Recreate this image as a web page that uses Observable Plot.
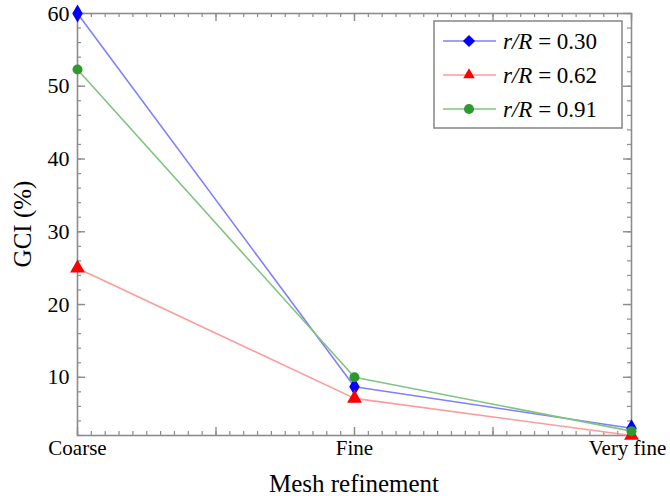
<!DOCTYPE html>
<html><head><meta charset="utf-8">
<script src="https://cdn.jsdelivr.net/npm/d3@7"></script>
<script src="https://cdn.jsdelivr.net/npm/@observablehq/plot@0.6"></script>
<style>body{margin:0;background:#fff}#c{width:670px;height:496px}</style>
</head><body><div id="c"></div>
<script>
const categories = ["Coarse", "Fine", "Very fine"];
const seriesKeys = ["0.30", "0.62", "0.91"];
const gci030 = [60.0, 8.7, 3.0];
const gci062 = [25.0, 7.1, 2.0];
const gci091 = [52.3, 10.0, 2.6];
const yTicks = [10, 20, 30, 40, 50, 60];
const yMinorTicks = d3.range(2, 60.01, 2);
const xMajorTicks = [0, 0.5, 1, 1.5, 2];
const xMinorTicks = d3.range(0, 2.001, 0.05);
const xLabel = "Mesh refinement";
const yLabel = "GCI (%)";

const lineColors = ["#7f7fff", "#ff9a9a", "#80c480"];
const markColors = ["#0000ff", "#ff0000", "#2e9a2e"];
const symbols = ["diamond", "triangle", "circle"];

const seriesVals = [gci030, gci062, gci091];
const data = [];
seriesVals.forEach((vals, s) => vals.forEach((v, i) => data.push({s, i, v})));
const catData = categories.map((c, i) => ({c, i}));

const W = 670, H = 496, mL = 77, mR = 39, mT = 13, mB = 61;
const innerW = W - mL - mR, innerH = H - mT - mB;
const font = "Liberation Serif, Times New Roman, serif";
const gray = "#8c8c8c";

const marks = [];
marks.push(Plot.tickY(yMinorTicks, {y: d => d, insetRight: innerW - 4, stroke: gray, strokeWidth: 1.2}));
marks.push(Plot.tickY(yMinorTicks, {y: d => d, insetLeft: innerW - 4, stroke: gray, strokeWidth: 1.2}));
marks.push(Plot.tickY(yTicks, {y: d => d, insetRight: innerW - 8, stroke: gray, strokeWidth: 1.4}));
marks.push(Plot.tickY(yTicks, {y: d => d, insetLeft: innerW - 8, stroke: gray, strokeWidth: 1.4}));
marks.push(Plot.tickX(xMinorTicks, {x: d => d, insetTop: innerH - 4, stroke: gray, strokeWidth: 1.2}));
marks.push(Plot.tickX(xMinorTicks, {x: d => d, insetBottom: innerH - 4, stroke: gray, strokeWidth: 1.2}));
marks.push(Plot.tickX(xMajorTicks, {x: d => d, insetTop: innerH - 8, stroke: gray, strokeWidth: 1.4}));
marks.push(Plot.tickX(xMajorTicks, {x: d => d, insetBottom: innerH - 8, stroke: gray, strokeWidth: 1.4}));
marks.push(Plot.frame({stroke: gray, strokeWidth: 1.6}));

seriesVals.forEach((vals, s) => {
  const d = data.filter(e => e.s === s);
  marks.push(Plot.line(d, {x: "i", y: "v", stroke: lineColors[s], strokeWidth: 1.6}));
});
seriesVals.forEach((vals, s) => {
  const d = data.filter(e => e.s === s);
  marks.push(Plot.dot(d, {x: "i", y: "v", fill: markColors[s], stroke: "none", symbol: () => symbols[s], r: s === 2 ? 5 : 5.5}));
});

marks.push(Plot.axisY({ticks: yTicks, tickSize: 0, tickPadding: 8, fontSize: 22, label: null}));
// x tick labels: first two centred, last one nudged left to stay inside the page
marks.push(Plot.text(catData.slice(0, 2), {x: "i", text: "c", frameAnchor: "bottom", dy: 19, fontSize: 21, fill: "#000"}));
marks.push(Plot.text(catData.slice(2), {x: "i", text: "c", frameAnchor: "bottom", dy: 19, dx: -4, fontSize: 21, fill: "#000"}));

const svg = Plot.plot({
  width: W, height: H,
  marginLeft: mL, marginRight: mR, marginTop: mT, marginBottom: mB,
  style: {fontFamily: font, fontSize: "20px", color: "#000", background: "#fff", overflow: "visible"},
  x: {type: "linear", domain: [0, 2], axis: null},
  y: {domain: [2, 60]},
  symbol: {type: "identity"},
  marks
});

const root = d3.select(svg);
root.append("text").attr("x", mL + innerW / 2).attr("y", H - 13).attr("dy", "0.35em")
  .attr("text-anchor", "middle").style("font-family", font).style("font-size", "25px").attr("fill", "#000").text(xLabel);
root.append("text").attr("transform", `translate(22,${mT + innerH / 2}) rotate(-90)`).attr("dy", "0.35em")
  .attr("text-anchor", "middle").style("font-family", font).style("font-size", "25px").attr("fill", "#000").text(yLabel);

const g = root.append("g").attr("text-anchor", "start");
g.append("rect").attr("x", 434).attr("y", 21).attr("width", 188).attr("height", 107)
  .attr("fill", "#fff").attr("stroke", gray).attr("stroke-width", 1.6);
seriesKeys.forEach((k, s) => {
  const y = 41 + s * 34;
  g.append("line").attr("x1", 443).attr("x2", 496).attr("y1", y).attr("y2", y)
    .attr("stroke", lineColors[s]).attr("stroke-width", 1.6);
  const sym = {diamond: d3.symbolDiamond2, triangle: d3.symbolTriangle2, circle: d3.symbolCircle}[symbols[s]];
  const size = s === 2 ? 80 : 95;
  g.append("path").attr("d", d3.symbol(sym, size)()).attr("transform", `translate(469,${y})`).attr("fill", markColors[s]);
  const t = g.append("text").attr("x", 503).attr("y", y).attr("dy", "0.35em").attr("text-anchor", "start")
    .style("font-family", font).style("font-size", "23px").attr("fill", "#000");
  t.append("tspan").style("font-style", "italic").text("r/R");
  t.append("tspan").text(" = " + k);
});

document.getElementById("c").appendChild(svg);
</script></body></html>
